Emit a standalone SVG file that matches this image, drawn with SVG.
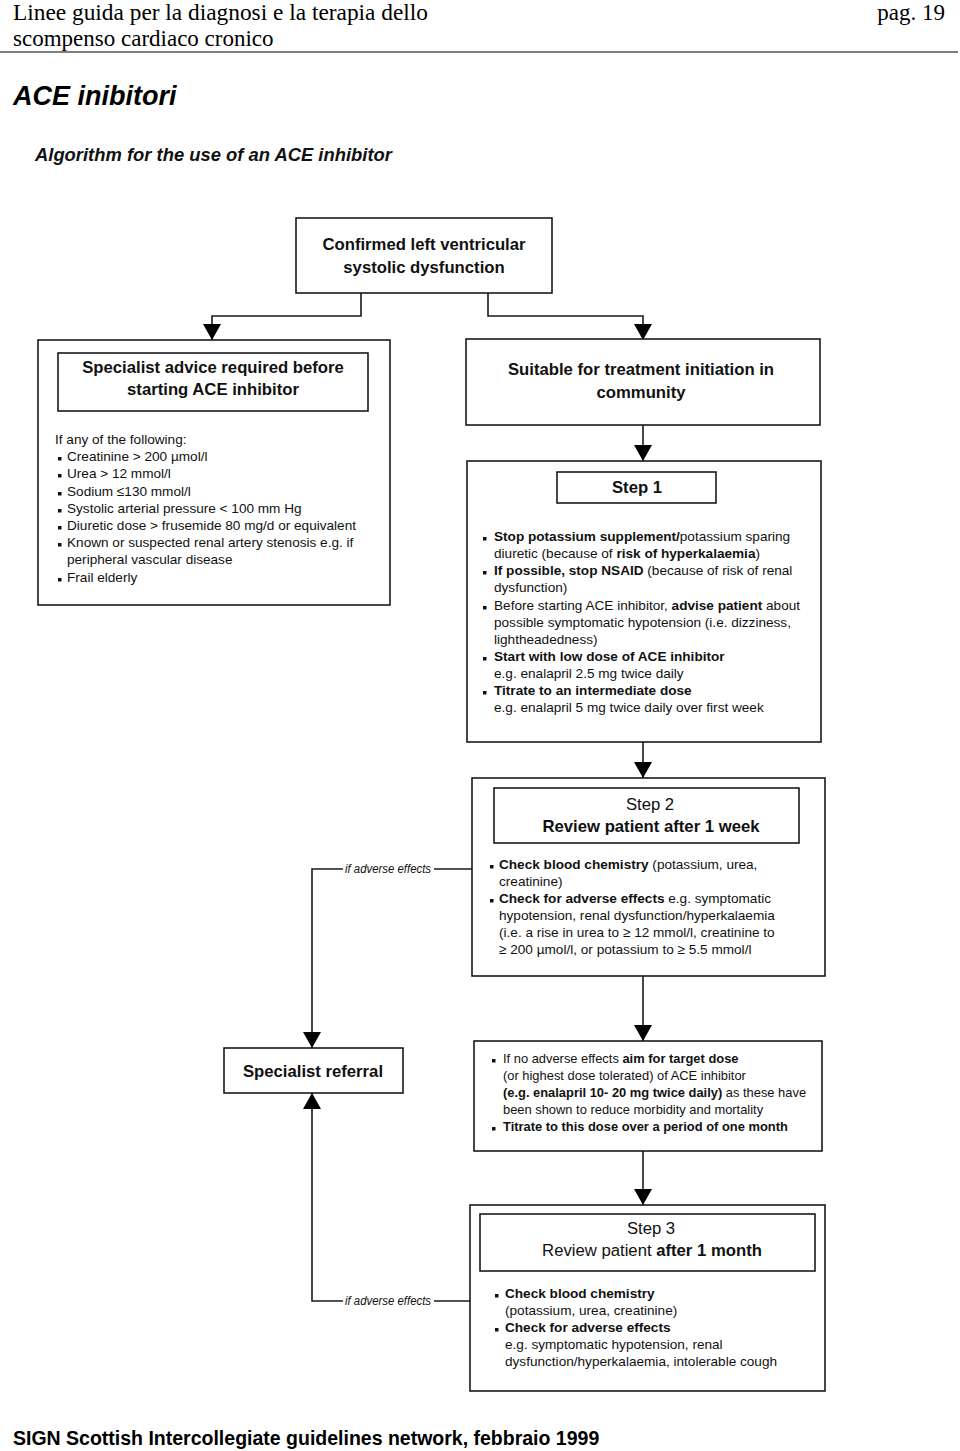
<svg xmlns="http://www.w3.org/2000/svg" width="960" height="1451" viewBox="0 0 960 1451">
<defs>
<style>
.bg{fill:#fff}
.box{fill:#fff;stroke:#1a1a1a;stroke-width:1.6}
.ln{fill:none;stroke:#1a1a1a;stroke-width:1.6}
.t{font-family:"Liberation Sans",Arial,sans-serif;font-size:13.6px;fill:#111}
.s{font-size:12.9px}
.h{font-family:"Liberation Sans",Arial,sans-serif;font-weight:bold;font-size:16.7px;fill:#111;text-anchor:middle}
.b{font-weight:bold}
.n{font-weight:normal}
.bu{fill:#111}
.lab{font-family:"Liberation Sans",Arial,sans-serif;font-style:italic;font-size:12px;fill:#111}
.tm{font-family:"Liberation Serif","Times New Roman",serif;font-size:23px;fill:#000}
</style>
<marker id="ah" viewBox="0 0 16 18" markerUnits="userSpaceOnUse" markerWidth="16" markerHeight="18" refX="16" refY="9" orient="auto">
<path d="M0,0 L16,9 L0,18 z" fill="#000"/>
</marker>
</defs>
<rect class="bg" x="0" y="0" width="960" height="1451"/>

<g id="header">
<text class="tm" x="13" y="20" textLength="415" lengthAdjust="spacingAndGlyphs">Linee guida per la diagnosi e la terapia dello</text>
<text class="tm" x="13" y="46">scompenso cardiaco cronico</text>
<text class="tm" x="945" y="20" text-anchor="end">pag. 19</text>
<line x1="0" y1="52" x2="958" y2="52" stroke="#000" stroke-width="1.2"/>
<text x="13" y="105" font-family="Liberation Sans,Arial,sans-serif" font-weight="bold" font-style="italic" font-size="27" fill="#000">ACE inibitori</text>
<text x="35" y="161" font-family="Liberation Sans,Arial,sans-serif" font-weight="bold" font-style="italic" font-size="18.4" fill="#111">Algorithm for the use of an ACE inhibitor</text>
</g>

<g id="connectors">
<path class="ln" d="M361,293 V316 H212 V340" marker-end="url(#ah)"/>
<path class="ln" d="M488,293 V316 H643 V340" marker-end="url(#ah)"/>
<path class="ln" d="M643,425 V461" marker-end="url(#ah)"/>
<path class="ln" d="M643,742 V778" marker-end="url(#ah)"/>
<path class="ln" d="M643,976 V1041" marker-end="url(#ah)"/>
<path class="ln" d="M643,1151 V1205" marker-end="url(#ah)"/>
<path class="ln" d="M472,869 H434"/>
<path class="ln" d="M343,869 H312 V1048" marker-end="url(#ah)"/>
<path class="ln" d="M470,1301 H434"/>
<path class="ln" d="M343,1301 H312 V1093" marker-end="url(#ah)"/>
<text class="lab" x="345" y="873" textLength="86" lengthAdjust="spacingAndGlyphs">if adverse effects</text>
<text class="lab" x="345" y="1305" textLength="86" lengthAdjust="spacingAndGlyphs">if adverse effects</text>
</g>

<g id="n-confirmed">
<rect class="box" x="296" y="218" width="256" height="75"/>
<text class="h" x="424" y="250">Confirmed left ventricular</text>
<text class="h" x="424" y="273">systolic dysfunction</text>
</g>

<g id="n-specialist-advice">
<rect class="box" x="38" y="340" width="352" height="265"/>
<rect class="box" x="58" y="353" width="310" height="58"/>
<text class="h" x="213" y="373">Specialist advice required before</text>
<text class="h" x="213" y="395">starting ACE inhibitor</text>
<g class="t">
<text x="55" y="444">If any of the following:</text>
<rect class="bu" x="58" y="457" width="3.5" height="3.5"/><text x="67" y="461">Creatinine &gt; 200 µmol/l</text>
<rect class="bu" x="58" y="474" width="3.5" height="3.5"/><text x="67" y="478">Urea &gt; 12 mmol/l</text>
<rect class="bu" x="58" y="492" width="3.5" height="3.5"/><text x="67" y="496">Sodium ≤130 mmol/l</text>
<rect class="bu" x="58" y="509" width="3.5" height="3.5"/><text x="67" y="513">Systolic  arterial pressure &lt; 100 mm Hg</text>
<rect class="bu" x="58" y="526" width="3.5" height="3.5"/><text x="67" y="530">Diuretic dose &gt; frusemide 80 mg/d or equivalent</text>
<rect class="bu" x="58" y="543" width="3.5" height="3.5"/><text x="67" y="547">Known or suspected renal artery stenosis e.g. if</text>
<text x="67" y="564">peripheral vascular disease</text>
<rect class="bu" x="58" y="578" width="3.5" height="3.5"/><text x="67" y="582">Frail  elderly</text>
</g>
</g>

<g id="n-suitable">
<rect class="box" x="466" y="339" width="354" height="86"/>
<text class="h" x="641" y="375">Suitable for treatment initiation in</text>
<text class="h" x="641" y="398">community</text>
</g>

<g id="n-step1">
<rect class="box" x="467" y="461" width="354" height="281"/>
<rect class="box" x="557" y="472" width="159" height="31"/>
<text class="h" x="637" y="493">Step 1</text>
<g class="t">
<rect class="bu" x="483" y="537" width="3.5" height="3.5"/><text x="494" y="541"><tspan class="b">Stop potassium supplement/</tspan>potassium sparing</text>
<text x="494" y="558">diuretic (because of <tspan class="b">risk of hyperkalaemia</tspan>)</text>
<rect class="bu" x="483" y="571" width="3.5" height="3.5"/><text x="494" y="575"><tspan class="b">If possible, stop NSAID</tspan> (because of risk of renal</text>
<text x="494" y="592">dysfunction)</text>
<rect class="bu" x="483" y="606" width="3.5" height="3.5"/><text x="494" y="610">Before starting ACE inhibitor, <tspan class="b">advise patient</tspan> about</text>
<text x="494" y="627">possible symptomatic hypotension (i.e. dizziness,</text>
<text x="494" y="644">lightheadedness)</text>
<rect class="bu" x="483" y="657" width="3.5" height="3.5"/><text x="494" y="661"><tspan class="b">Start with low dose of ACE inhibitor</tspan></text>
<text x="494" y="678">e.g. enalapril 2.5 mg twice daily</text>
<rect class="bu" x="483" y="691" width="3.5" height="3.5"/><text x="494" y="695"><tspan class="b">Titrate to an intermediate dose</tspan></text>
<text x="494" y="712">e.g. enalapril 5 mg twice daily over first week</text>
</g>
</g>

<g id="n-step2">
<rect class="box" x="472" y="778" width="353" height="198"/>
<rect class="box" x="494" y="788" width="305" height="55"/>
<text class="h" x="650" y="810"><tspan class="n">Step 2</tspan></text>
<text class="h" x="651" y="832">Review patient after 1 week</text>
<g class="t">
<rect class="bu" x="490" y="865" width="3.5" height="3.5"/><text x="499" y="869"><tspan class="b">Check blood chemistry</tspan> (potassium, urea,</text>
<text x="499" y="886">creatinine)</text>
<rect class="bu" x="490" y="899" width="3.5" height="3.5"/><text x="499" y="903"><tspan class="b">Check for adverse effects</tspan> e.g. symptomatic</text>
<text x="499" y="920">hypotension, renal dysfunction/hyperkalaemia</text>
<text x="499" y="937">(i.e. a rise in urea to ≥ 12 mmol/l, creatinine to</text>
<text x="499" y="954">≥ 200 µmol/l, or potassium to ≥ 5.5 mmol/l</text>
</g>
</g>

<g id="n-specialist-referral">
<rect class="box" x="224" y="1048" width="179" height="45"/>
<text class="h" x="313" y="1077">Specialist referral</text>
</g>

<g id="n-target-dose">
<rect class="box" x="474" y="1041" width="348" height="110"/>
<g class="t s">
<rect class="bu" x="492" y="1059" width="3.5" height="3.5"/><text x="503" y="1063">If no adverse effects <tspan class="b">aim for target dose</tspan></text>
<text x="503" y="1080">(or highest dose tolerated) of ACE inhibitor</text>
<text x="503" y="1097"><tspan class="b">(e.g. enalapril 10- 20 mg twice daily)</tspan> as these have</text>
<text x="503" y="1114">been shown to reduce morbidity and mortality</text>
<rect class="bu" x="492" y="1127" width="3.5" height="3.5"/><text x="503" y="1131"><tspan class="b">Titrate to this dose over a period of one month</tspan></text>
</g>
</g>

<g id="n-step3">
<rect class="box" x="470" y="1205" width="355" height="186"/>
<rect class="box" x="480" y="1214" width="335" height="57"/>
<text class="h" x="651" y="1234"><tspan class="n">Step 3</tspan></text>
<text class="h" x="652" y="1256"><tspan class="n">Review patient </tspan>after 1 month</text>
<g class="t">
<rect class="bu" x="495" y="1294" width="3.5" height="3.5"/><text x="505" y="1298"><tspan class="b">Check blood chemistry</tspan></text>
<text x="505" y="1315">(potassium, urea, creatinine)</text>
<rect class="bu" x="495" y="1328" width="3.5" height="3.5"/><text x="505" y="1332"><tspan class="b">Check for adverse effects</tspan></text>
<text x="505" y="1349">e.g. symptomatic hypotension, renal</text>
<text x="505" y="1366">dysfunction/hyperkalaemia, intolerable cough</text>
</g>
</g>

<g id="footer">
<text x="13" y="1445" font-family="Liberation Sans,Arial,sans-serif" font-weight="bold" font-size="19.5" fill="#000">SIGN Scottish Intercollegiate guidelines network, febbraio 1999</text>
</g>
</svg>
